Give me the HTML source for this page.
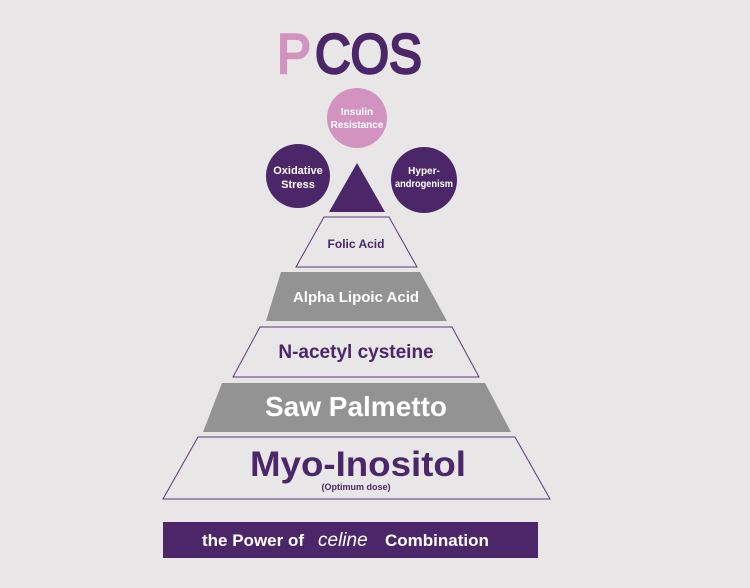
<!DOCTYPE html>
<html><head><style>
body{margin:0;background:#e8e6e7;}
</style></head><body>
<svg width="750" height="588" viewBox="0 0 750 588" xmlns="http://www.w3.org/2000/svg" style="display:block">
<rect width="750" height="588" fill="#e8e6e7"/>
<g font-family="Liberation Sans, sans-serif" font-weight="bold">
<text x="277" y="73" font-size="56" fill="#d393c0" stroke="#d393c0" stroke-width="2.5" textLength="34" lengthAdjust="spacingAndGlyphs" font-weight="normal">P</text>
<text x="315" y="73" font-size="56" fill="#4b2769" stroke="#4b2769" stroke-width="2.5" textLength="107" lengthAdjust="spacingAndGlyphs" font-weight="normal">COS</text>
<circle cx="357" cy="118" r="30" fill="#d393c0"/>
<text x="357" y="115" font-size="10" fill="#fff" text-anchor="middle">Insulin</text>
<text x="357" y="128" font-size="10" fill="#fff" text-anchor="middle">Resistance</text>
<circle cx="298" cy="176" r="32" fill="#4b2769"/>
<text x="298" y="174" font-size="11" fill="#fff" text-anchor="middle">Oxidative</text>
<text x="298" y="188" font-size="11" fill="#fff" text-anchor="middle">Stress</text>
<circle cx="424" cy="180" r="33" fill="#4b2769"/>
<text x="424" y="174" font-size="10" fill="#fff" text-anchor="middle">Hyper-</text>
<text x="424" y="187" font-size="10" fill="#fff" text-anchor="middle" textLength="58" lengthAdjust="spacingAndGlyphs">androgenism</text>
<polygon points="357,163 329,212 385,212" fill="#4b2769"/>

<polygon points="324,217 389,217 417,267 296,267" fill="#e8e6e7" stroke="#5a3a7a" stroke-width="1"/>
<text x="356" y="248" font-size="12" fill="#4b2769" text-anchor="middle">Folic Acid</text>
<polygon points="281,272 420,272 447,321 266,321" fill="#939393"/>
<text x="356" y="302" font-size="15" fill="#fff" text-anchor="middle">Alpha Lipoic Acid</text>
<polygon points="260,327 452,327 479,377 233,377" fill="#e8e6e7" stroke="#5a3a7a" stroke-width="1"/>
<text x="356" y="358" font-size="19" fill="#4b2769" text-anchor="middle">N-acetyl cysteine</text>
<polygon points="222,383 485,383 511,432 203,432" fill="#939393"/>
<text x="356" y="416" font-size="28" fill="#fff" text-anchor="middle">Saw Palmetto</text>
<polygon points="198,437 515,437 550,499 163,499" fill="#e8e6e7" stroke="#5a3a7a" stroke-width="1"/>
<text x="358" y="476" font-size="35" fill="#4b2769" text-anchor="middle" textLength="216" lengthAdjust="spacingAndGlyphs">Myo-Inositol</text>
<text x="356" y="490" font-size="9" fill="#4b2769" text-anchor="middle">(Optimum dose)</text>
<rect x="163" y="522" width="375" height="36" fill="#4b2769"/>
<text x="202" y="546" font-size="17" fill="#fff">the Power of</text>
<text x="318" y="546" font-size="19" fill="#fff" font-weight="normal" font-style="italic">celine</text>
<text x="385" y="546" font-size="17" fill="#fff">Combination</text>
</g>
</svg>
</body></html>
